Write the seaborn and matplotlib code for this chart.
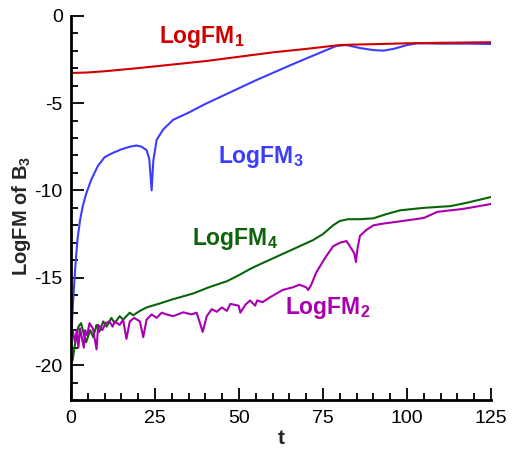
import numpy as np
import pandas as pd
import matplotlib
matplotlib.use("Agg")
import matplotlib.pyplot as plt
from matplotlib.ticker import MultipleLocator
import seaborn as sns

# ---- data ----
t_fm1 = [0, 5, 10, 20, 30, 40, 50, 56, 60, 70, 80, 85, 90, 100, 110, 125]
y_fm1 = [-3.28, -3.25, -3.18, -3.0, -2.8, -2.6, -2.35, -2.2, -2.1, -1.9, -1.68,
         -1.65, -1.63, -1.58, -1.55, -1.52]

t_fm3 = [0.05, 0.3, 0.6, 1.0, 1.5, 2.0, 2.7, 3.5, 4.5, 6, 8, 10, 12.5, 15, 17.5,
         19.5, 21, 22.5, 23.3, 24, 24.5, 25.5, 27.5, 30.4, 35, 40, 45, 50, 55,
         60, 65, 70, 75, 79, 82, 86, 90, 93, 96, 100, 103, 110, 118, 125]
y_fm3 = [-18.3, -17.6, -16.4, -15.2, -13.8, -12.7, -11.7, -10.9, -10.2, -9.4,
         -8.6, -8.1, -7.85, -7.65, -7.5, -7.43, -7.5, -7.7, -8.2, -10.0, -8.3,
         -7.1, -6.5, -5.96, -5.55, -5.05, -4.6, -4.15, -3.7, -3.28, -2.86,
         -2.45, -2.05, -1.73, -1.68, -1.85, -1.97, -2.0, -1.9, -1.68, -1.58,
         -1.6, -1.6, -1.62]

t_fm4 = [0.3, 0.5, 1.2, 2.2, 3.0, 3.8, 4.5, 5.7, 6.6, 7.6, 8.4, 9.6, 10.6, 12,
         13, 14.5, 15.5, 17.5, 18.5, 20.5, 22.5, 26.5, 30, 36.4, 41, 46.4, 50,
         53.3, 56, 60, 64, 68, 72, 75, 78, 80, 82.5, 86, 90, 94, 98, 105, 113,
         118, 125]
y_fm4 = [-19.8, -19.7, -18.8, -17.8, -17.6, -18.2, -18.7, -18.0, -18.4, -17.7,
         -18.1, -17.5, -17.8, -17.3, -17.6, -17.2, -17.4, -17.0, -17.15, -16.9,
         -16.7, -16.47, -16.25, -15.9, -15.55, -15.2, -14.85, -14.5, -14.25,
         -13.9, -13.55, -13.2, -12.85, -12.5, -12.0, -11.75, -11.65, -11.65,
         -11.6, -11.35, -11.14, -11.0, -10.9, -10.7, -10.38]

t_fm2 = [0.3, 0.5, 1.2, 1.7, 2.2, 2.7, 3.8, 4.2, 4.8, 5.5, 6.5, 7.6, 8.1, 9.3,
         10.3, 11.4, 12.4, 13, 14.5, 15.5, 16.5, 17.5, 18.8, 20.5, 21.5, 22.5,
         24, 25.5, 27, 28.4, 30.4, 33.4, 35.9, 37.4, 39.2, 40.4, 41.9, 43.4,
         44.9, 46.4, 47.4, 49.9, 50.4, 51.9, 53.3, 54.8, 55.4, 57, 59.4, 63, 66,
         68, 70, 70.6, 71.5, 73, 75.5, 78, 80, 82, 83, 84.3, 84.8, 85.3, 86, 88,
         90, 93, 98, 105, 109, 116.7, 125]
y_fm2 = [-18.0, -18.0, -18.7, -18.0, -19.0, -17.9, -19.0, -18.0, -18.3, -17.6,
         -17.9, -19.1, -17.7, -18.0, -17.6, -17.5, -17.8, -17.5, -17.7, -17.4,
         -18.5, -17.5, -17.3, -17.5, -18.4, -17.4, -17.1, -17.3, -17.0, -17.1,
         -17.2, -16.98, -17.1, -17.0, -18.1, -17.2, -16.8, -16.95, -16.7, -16.9,
         -16.5, -16.6, -17.0, -16.55, -16.3, -16.6, -16.3, -16.4, -16.1, -15.7,
         -15.55, -15.4, -15.55, -15.7, -15.4, -14.7, -13.9, -13.2, -13.0, -12.9,
         -13.2, -13.6, -14.1, -13.3, -12.6, -12.25, -12.0, -11.9, -11.77, -11.58,
         -11.23, -11.06, -10.78]

x_ticks = [0, 25, 50, 75, 100, 125]
y_ticks = [0, -5, -10, -15, -20]

series = [
    ("3", t_fm3, y_fm3, "#3c3cff"),
    ("4", t_fm4, y_fm4, "#0a640a"),
    ("2", t_fm2, y_fm2, "#a800b0"),
    ("1", t_fm1, y_fm1, "#d00000"),
]
label_pos = {
    "1": (26.3, -1.58),
    "3": (43.7, -8.42),
    "4": (35.9, -13.1),
    "2": (63.7, -17.1),
}

sns.set_style("ticks")
plt.rcParams["font.family"] = ["Liberation Sans", "DejaVu Sans"]
plt.rcParams["mathtext.fontset"] = "custom"
plt.rcParams["mathtext.rm"] = "Liberation Sans"
plt.rcParams["mathtext.bf"] = "Liberation Sans:bold"
plt.rcParams["mathtext.it"] = "Liberation Sans:italic"
plt.rcParams["axes.unicode_minus"] = False

fig = plt.figure(figsize=(5.13, 4.49), dpi=100)
ax = fig.add_axes([71 / 513, 49 / 449, 420 / 513, 384.3 / 449])

for name, tt, yy, col in series:
    df = pd.DataFrame({"t": tt, "v": yy})
    sns.lineplot(data=df, x="t", y="v", ax=ax, color=col, lw=1.5,
                 sort=False, estimator=None)
    tx, ty = label_pos[name]
    ax.text(tx, ty, r"$\mathbf{LogFM}_\mathbf{" + name + "}$",
            color=col, fontsize=16.5, ha="left", va="baseline")

ax.set_xlim(0, 125)
ax.set_ylim(-22, 0)
ax.set_xticks(x_ticks)
ax.set_yticks(y_ticks)
ax.xaxis.set_minor_locator(MultipleLocator(5))
ax.yaxis.set_minor_locator(MultipleLocator(1))
ax.tick_params(which="both", direction="in", width=1.3, labelsize=14,
               colors="black")
ax.tick_params(which="major", length=9)
ax.tick_params(which="minor", length=5)
ax.tick_params(axis="x", pad=7)
ax.tick_params(axis="y", pad=6)
for s in ["top", "right"]:
    ax.spines[s].set_visible(False)
for s in ["left", "bottom"]:
    ax.spines[s].set_linewidth(2)
    ax.spines[s].set_color("black")

ax.set_xlabel("t", fontsize=15, fontweight="bold")
ax.set_ylabel("LogFM of B$_\\mathbf{3}$", fontsize=14.5, fontweight="bold")
ax.xaxis.set_label_coords(0.5, -0.099)
ax.xaxis.label.set_va("center")
ax.yaxis.set_label_coords(-0.118, 0.48)
ax.yaxis.label.set_va("center")

fig.savefig("out.png", dpi=100)
